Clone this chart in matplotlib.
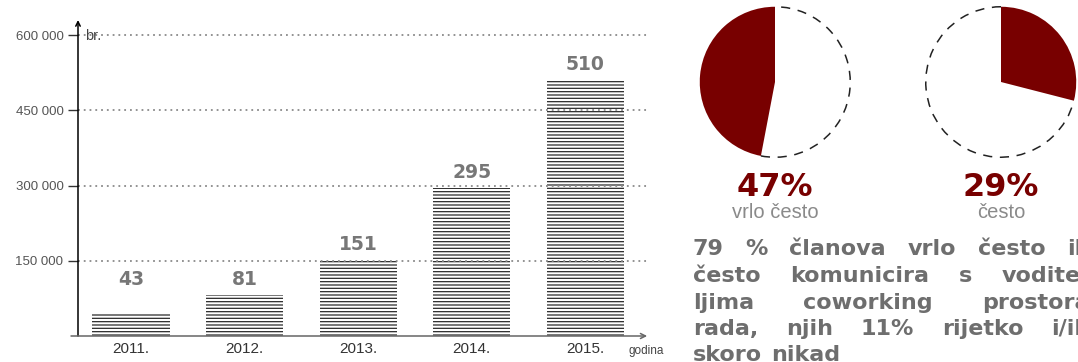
import matplotlib
matplotlib.use("Agg")
import matplotlib.pyplot as plt
from matplotlib.patches import Arc

# ---------------- data ----------------
years = ["2011.", "2012.", "2013.", "2014.", "2015."]
members = [43000, 81000, 151000, 295000, 510000]
member_labels = ["43", "81", "151", "295", "510"]
yticks = [150000, 300000, 450000, 600000]
ytick_labels = ["150 000", "300 000", "450 000", "600 000"]

pie_values = [47, 29]
pie_pct_labels = ["47%", "29%"]
pie_names = ["vrlo često", "često"]

paragraph_lines = [
    "79 % članova vrlo često ili",
    "često komunicira s vodite-",
    "ljima coworking prostora",
    "rada, njih 11% rijetko i/ili",
    "skoro nikad",
]

RED = "#780000"
W, H = 1078, 362
plt.rcParams["hatch.linewidth"] = 0.9
REG = ["Liberation Sans", "DejaVu Sans"]

fig = plt.figure(figsize=(W / 100, H / 100), dpi=100)


def px_rect(l, t, r, b):
    return [l / W, 1 - b / H, (r - l) / W, (b - t) / H]


# ---------------- bar chart ----------------
ax = fig.add_axes(px_rect(78, 25, 650, 336))
x = list(range(len(years)))
ax.bar(x, members, width=0.68, color="white", edgecolor="#2a2a2a",
       linewidth=0, hatch="-----", zorder=1)
ax.set_xlim(-0.4666, 4.569)
ax.set_ylim(0, 620000)
for s in ax.spines.values():
    s.set_visible(False)
ax.set_yticks(yticks)
ax.set_yticklabels(ytick_labels, family=REG, fontsize=9.5, color="#555555")
ax.tick_params(axis="y", length=7, width=1, color="#333333", pad=3.5)
ax.set_xticks(x)
ax.set_xticklabels(years, family=REG, fontsize=11, color="#333333")
ax.tick_params(axis="x", length=0, pad=4.5)
ax.yaxis.grid(True, linestyle=(0, (1, 2.2)), linewidth=1.3, color="#8a8a8a")
ax.set_axisbelow(False)

# axes lines with arrows
ax.annotate("", xy=(0, 1.016), xytext=(0, 0), xycoords="axes fraction",
            arrowprops=dict(arrowstyle="->", color="black", lw=1.1,
                            shrinkA=0, shrinkB=0, mutation_scale=8),
            annotation_clip=False)
ax.annotate("", xy=(0.995, 0), xytext=(-0.0122, 0), xycoords="axes fraction",
            arrowprops=dict(arrowstyle="->", color="#666666", lw=1.1,
                            shrinkA=0, shrinkB=0, mutation_scale=9),
            annotation_clip=False)

for xi, v, lab in zip(x, members, member_labels):
    ax.annotate(lab, xy=(xi, max(v, 81000)), xytext=(0, 4.5),
                textcoords="offset points", ha="center", va="bottom",
                fontsize=13.5, fontweight="bold", color="#777777",
                family="DejaVu Sans")

fig.text(85 / W, 1 - 36 / H, "br.", family=REG, fontsize=10.5,
         color="#444444", va="center", ha="left")
fig.text(646 / W, 1 - 351 / H, "godina", family=REG, fontsize=8.5,
         color="#444444", va="center", ha="center")

# ---------------- pies ----------------
pie_centers = [775, 1001]
R = 76
for i, (cx, val) in enumerate(zip(pie_centers, pie_values)):
    pax = fig.add_axes(px_rect(cx - R, 82 - R, cx + R, 82 + R))
    counter = (i == 0)
    pax.pie([val, 100 - val], startangle=90, counterclock=counter,
            colors=[RED, "none"], radius=1.0,
            wedgeprops=dict(linewidth=0))
    span = 360 * val / 100
    if counter:
        t1, t2 = 90 + span, 450
    else:
        t1, t2 = 90, 450 - span
    pax.add_patch(Arc((0, 0), 2, 2, theta1=t1, theta2=t2, color="#222222",
                      lw=1.1, linestyle=(0, (6, 5))))
    pax.set_xlim(-1.01, 1.01)
    pax.set_ylim(-1.01, 1.01)
    pax.set_aspect("equal")
    pax.axis("off")
    fig.text(cx / W, 1 - 188 / H, pie_pct_labels[i], ha="center", va="center",
             fontsize=23, fontweight="bold", color=RED, family="DejaVu Sans")
    fig.text(cx / W, 1 - 213 / H, pie_names[i], ha="center", va="center",
             fontsize=14.5, color="#8a8a8a", family=REG)

# ---------------- justified paragraph ----------------
line_y = [249, 276, 303, 329, 355]
left_px, right_px = 693, 1090
fig.canvas.draw()
renderer = fig.canvas.get_renderer()
for li, (line, yy) in enumerate(zip(paragraph_lines, line_y)):
    words = line.split(" ")
    texts = []
    widths = []
    for w in words:
        t = fig.text(0, 1 - yy / H, w, ha="left", va="center", fontsize=16,
                     fontweight="bold", color="#6e6e6e", family="DejaVu Sans")
        texts.append(t)
        widths.append(t.get_window_extent(renderer).width)
    if li < len(paragraph_lines) - 1 and len(words) > 1:
        gap = (right_px - left_px - sum(widths)) / (len(words) - 1)
    else:
        gap = 9
    xpos = left_px
    for t, wd in zip(texts, widths):
        t.set_x(xpos / W)
        xpos += wd + gap

fig.savefig("out.png", dpi=100)
